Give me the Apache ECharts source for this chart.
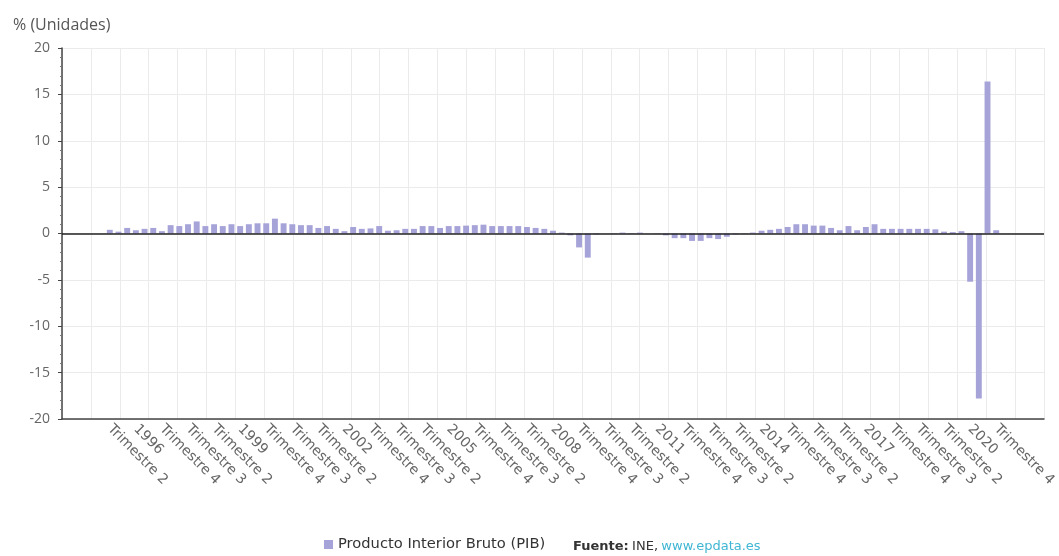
<!DOCTYPE html>
<html>
<head>
<meta charset="utf-8">
<script src="https://cdn.jsdelivr.net/npm/echarts@6/dist/echarts.min.js"></script>
<style>
  html, body { margin: 0; padding: 0; background: #fff; }
  #pib { width: 1059px; height: 556px; }
</style>
</head>
<body>
<div id="pib"></div>
<script>
// años del eje (trimestre 1 se muestra con el año)
const firstYear = 1994;
const lastYear = 2022;
const quarterNames = ['', 'Trimestre 2', 'Trimestre 3', 'Trimestre 4'];

// variación trimestral del PIB, %, de 1994T1 a 2022T1
const pib1994 = [null, null, null, null];
const pib1995 = [null, 0.4, 0.2, 0.6];
const pib1996 = [0.35, 0.5, 0.6, 0.25];
const pib1997 = [0.9, 0.8, 1.0, 1.3];
const pib1998 = [0.8, 1.0, 0.8, 1.0];
const pib1999 = [0.8, 1.0, 1.1, 1.1];
const pib2000 = [1.6, 1.1, 1.0, 0.9];
const pib2001 = [0.9, 0.6, 0.8, 0.5];
const pib2002 = [0.25, 0.7, 0.5, 0.55];
const pib2003 = [0.8, 0.3, 0.35, 0.5];
const pib2004 = [0.5, 0.8, 0.8, 0.6];
const pib2005 = [0.8, 0.8, 0.85, 0.9];
const pib2006 = [0.95, 0.8, 0.8, 0.8];
const pib2007 = [0.8, 0.7, 0.6, 0.5];
const pib2008 = [0.3, 0.1, -0.2, -1.5];
const pib2009 = [-2.6, -0.1, 0.0, 0.05];
const pib2010 = [0.1, 0.05, 0.1, 0.0];
const pib2011 = [0.05, -0.2, -0.5, -0.5];
const pib2012 = [-0.8, -0.8, -0.5, -0.6];
const pib2013 = [-0.35, -0.1, 0.05, 0.1];
const pib2014 = [0.3, 0.4, 0.5, 0.7];
const pib2015 = [1.0, 1.0, 0.85, 0.85];
const pib2016 = [0.6, 0.35, 0.8, 0.35];
const pib2017 = [0.7, 1.0, 0.5, 0.5];
const pib2018 = [0.5, 0.5, 0.5, 0.5];
const pib2019 = [0.45, 0.2, 0.15, 0.25];
const pib2020 = [-5.2, -17.8, 16.4, 0.35];
const pib2021 = [null, null, null, null];
const pib2022 = [null];

const yTicks = [-20, -15, -10, -5, 0, 5, 10, 15, 20];

const pib = [].concat(pib1994, pib1995, pib1996, pib1997, pib1998, pib1999,
  pib2000, pib2001, pib2002, pib2003, pib2004, pib2005, pib2006, pib2007,
  pib2008, pib2009, pib2010, pib2011, pib2012, pib2013, pib2014, pib2015,
  pib2016, pib2017, pib2018, pib2019, pib2020, pib2021, pib2022);

const categories = [];
for (let y = firstYear; y <= lastYear; y++) {
  for (let q = 0; q < 4; q++) {
    if (categories.length >= pib.length) break;
    categories.push(q === 0 ? String(y) : quarterNames[q]);
  }
}

// etiquetas cada 3 trimestres, desde 1995T2
function showLabel(index) {
  return index >= 5 && index <= 107 && (index - 5) % 3 === 0;
}

const chart = echarts.init(document.getElementById('pib'));
const font = 'DejaVu Sans';
const option = {
  animation: false,
  textStyle: { fontFamily: font },
  title: {
    text: '% (Unidades)',
    left: 8,
    top: 12,
    textStyle: { fontSize: 16, fontWeight: 'normal', color: '#555', fontFamily: 'Open Sans' }
  },
  grid: { left: 62, right: 15, top: 48, bottom: 137 },
  legend: {
    left: 324,
    top: 537,
    padding: 0,
    icon: 'rect',
    itemWidth: 9,
    itemHeight: 9,
    textStyle: { fontSize: 14.7, color: '#333', fontFamily: font },
    data: ['Producto Interior Bruto (PIB)']
  },
  graphic: [{
    type: 'text',
    left: 573,
    bottom: 3,
    style: {
      text: '{b|Fuente:} {n|INE,} {l|www.epdata.es}',
      rich: {
        b: { fontSize: 13, fontWeight: 'bold', fill: '#333', fontFamily: font },
        n: { fontSize: 13, fill: '#333', fontFamily: font },
        l: { fontSize: 13, fill: '#3fb6d3', fontFamily: font }
      }
    }
  }],
  xAxis: [
    {
      type: 'category',
      data: categories,
      position: 'bottom',
      axisLine: { onZero: false, lineStyle: { color: '#444', width: 1.5 } },
      axisTick: { interval: showLabel, alignWithLabel: true, length: 5, lineStyle: { color: '#444' } },
      axisLabel: {
        interval: showLabel,
        rotate: -45,
        margin: 8,
        fontSize: 14,
        color: '#666',
        fontFamily: font
      },
      splitLine: { show: false }
    },
    {
      type: 'category',
      data: categories,
      position: 'bottom',
      offset: 0,
      axisLine: { show: false },
      axisTick: { interval: 0, alignWithLabel: true, length: 2, lineStyle: { color: '#777' } },
      axisLabel: { show: false },
      splitLine: { show: false }
    },
    {
      type: 'value',
      position: 'top',
      min: 0,
      max: 34,
      interval: 1,
      axisLine: { show: false },
      axisTick: { show: false },
      axisLabel: { show: false },
      splitLine: { show: true, lineStyle: { color: '#ebebeb', width: 1 } }
    }
  ],
  yAxis: {
    type: 'value',
    min: yTicks[0],
    max: yTicks[yTicks.length - 1],
    interval: 5,
    axisLine: { show: true, lineStyle: { color: '#444', width: 1.5 } },
    axisTick: { show: true, length: 4, lineStyle: { color: '#444' } },
    minorTick: { show: true, splitNumber: 5, length: 2, lineStyle: { color: '#777' } },
    axisLabel: { fontSize: 14, color: '#666', margin: 12, fontFamily: 'Open Sans' },
    splitLine: { lineStyle: { color: '#ebebeb' } }
  },
  series: [{
    name: 'Producto Interior Bruto (PIB)',
    type: 'bar',
    xAxisIndex: 0,
    data: pib,
    barCategoryGap: '32%',
    itemStyle: { color: '#a6a3d8' },
    markLine: {
      silent: true,
      symbol: 'none',
      label: { show: false },
      lineStyle: { color: '#222', width: 1.5, type: 'solid' },
      data: [{ yAxis: 0 }]
    }
  }]
};
chart.setOption(option);
</script>
</body>
</html>
